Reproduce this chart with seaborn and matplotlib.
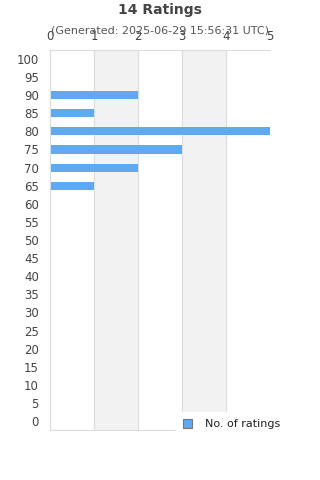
import matplotlib
matplotlib.use("Agg")
import matplotlib.pyplot as plt
import seaborn as sns
import pandas as pd
from matplotlib.patches import Patch

sns.set_theme(style="white")
plt.rcParams['font.family'] = ['DejaVu Sans']

# ratings buckets (top to bottom) and counts
ratings = ["100", "95", "90", "85", "80", "75", "70", "65", "60", "55", "50",
           "45", "40", "35", "30", "25", "20", "15", "10", "5", "0"]
counts = [0, 0, 2, 1, 5, 3, 2, 1, 0, 0, 0, 0, 0, 0, 0, 0, 0, 0, 0, 0, 0]
x_ticks = [0, 1, 2, 3, 4, 5]

df = pd.DataFrame({"rating": ratings, "count": counts})

bar_color = "#60a8f0"
grid_color = "#dddddd"
text_color = "#444444"

fig = plt.figure(figsize=(3.2, 4.8), dpi=100)
ax = fig.add_axes([0.156, 0.104, 0.688, 0.792])

# alternating shaded bands
for i in range(len(x_ticks) - 1):
    if i % 2 == 1:
        ax.axvspan(x_ticks[i], x_ticks[i + 1], color="#f2f2f2", zorder=0)
for t in x_ticks:
    ax.axvline(t, color=grid_color, lw=0.8, zorder=1)

sns.barplot(data=df, y="rating", x="count", order=ratings, orient="h",
            color=bar_color, saturation=1, width=0.45, linewidth=0,
            ax=ax, zorder=2)

ax.set_xlim(0, 5)
ax.set_xticks(x_ticks)
ax.xaxis.tick_top()
ax.set_xlabel("")
ax.set_ylabel("")
ax.tick_params(axis="both", labelsize=8.5, colors=text_color, length=0)
ax.tick_params(axis="y", pad=8)
ax.tick_params(axis="x", pad=5)
for s in ax.spines.values():
    s.set_color(grid_color)
    s.set_linewidth(0.8)
ax.spines["right"].set_visible(False)

fig.text(0.5, 0.979, "14 Ratings", ha="center", va="center",
         fontsize=10, fontweight="bold", color="#444444")
fig.text(0.5, 0.936, "(Generated: 2025-06-29 15:56:31 UTC)", ha="center",
         va="center", fontsize=8, color="#555555")

handle = Patch(facecolor=bar_color, edgecolor="#777777", linewidth=0.8)
leg = ax.legend([handle], ["No. of ratings"], loc="lower left",
                bbox_to_anchor=(0.548, -0.03), fontsize=8, frameon=True,
                handlelength=0.8, handleheight=0.8, handletextpad=1.2,
                borderpad=0.6)
leg.get_frame().set_facecolor("white")
leg.get_frame().set_edgecolor("white")
leg.get_frame().set_alpha(1)
for t in leg.get_texts():
    t.set_color("#222222")

fig.savefig("out.png", dpi=100)
